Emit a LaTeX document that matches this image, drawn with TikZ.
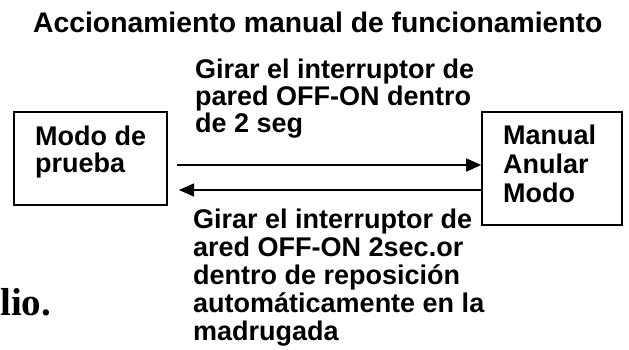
\documentclass[tikz,border=0pt]{standalone}
\usepackage{fontspec}
\setmainfont{Liberation Sans}
\newfontfamily\serifb{Liberation Serif}
\usetikzlibrary{arrows.meta}
\tikzset{
  box/.style={draw=black, line width=1.6pt, inner sep=0pt},
  lbl/.style={anchor=base west, inner sep=0pt, align=left, font=\fontsize{27}{28}\selectfont\bfseries},
  arr/.style={line width=1.5pt, -{Triangle[length=15pt,width=13pt]}}
}
\begin{document}
\begin{tikzpicture}[x=1pt,y=-1pt]
\useasboundingbox (0,0) rectangle (629,349);
\node[anchor=base west, inner sep=0pt, font=\fontsize{28.3}{30}\selectfont\bfseries] (title) at (33,32) {Accionamiento manual de funcionamiento};
\node[box, minimum width=153pt, minimum height=93pt] (lbox) at (90.5,158.5) {};
\node[box, minimum width=140pt, minimum height=113pt] (rbox) at (552,168.5) {};
\node[lbl, font=\fontsize{27}{27}\selectfont\bfseries] (ltext) at (35,172) {Modo de\\prueba};
\node[lbl, font=\fontsize{27}{29}\selectfont\bfseries] (rtext) at (503,202) {Manual\\Anular\\Modo};
\node[lbl, font=\fontsize{27}{27}\selectfont\bfseries] (toplbl) at (195,132) {Girar el interruptor de\\pared OFF-ON dentro\\de 2 seg};
\node[lbl] (botlbl) at (193,340) {Girar el interruptor de\\ared OFF-ON 2sec.or\\dentro de reposición\\automáticamente en la\\madrugada};
\node[anchor=base west, inner sep=0pt, font=\fontsize{39}{39}\selectfont\serifb\bfseries] (frag) at (0,315) {lio.};
\coordinate (a1) at (177,165);
\coordinate (b2) at (179,190);
\draw[arr] (a1) -- (rbox.west |- a1);
\draw[arr] (rbox.west |- b2) -- (b2);
\end{tikzpicture}
\end{document}
